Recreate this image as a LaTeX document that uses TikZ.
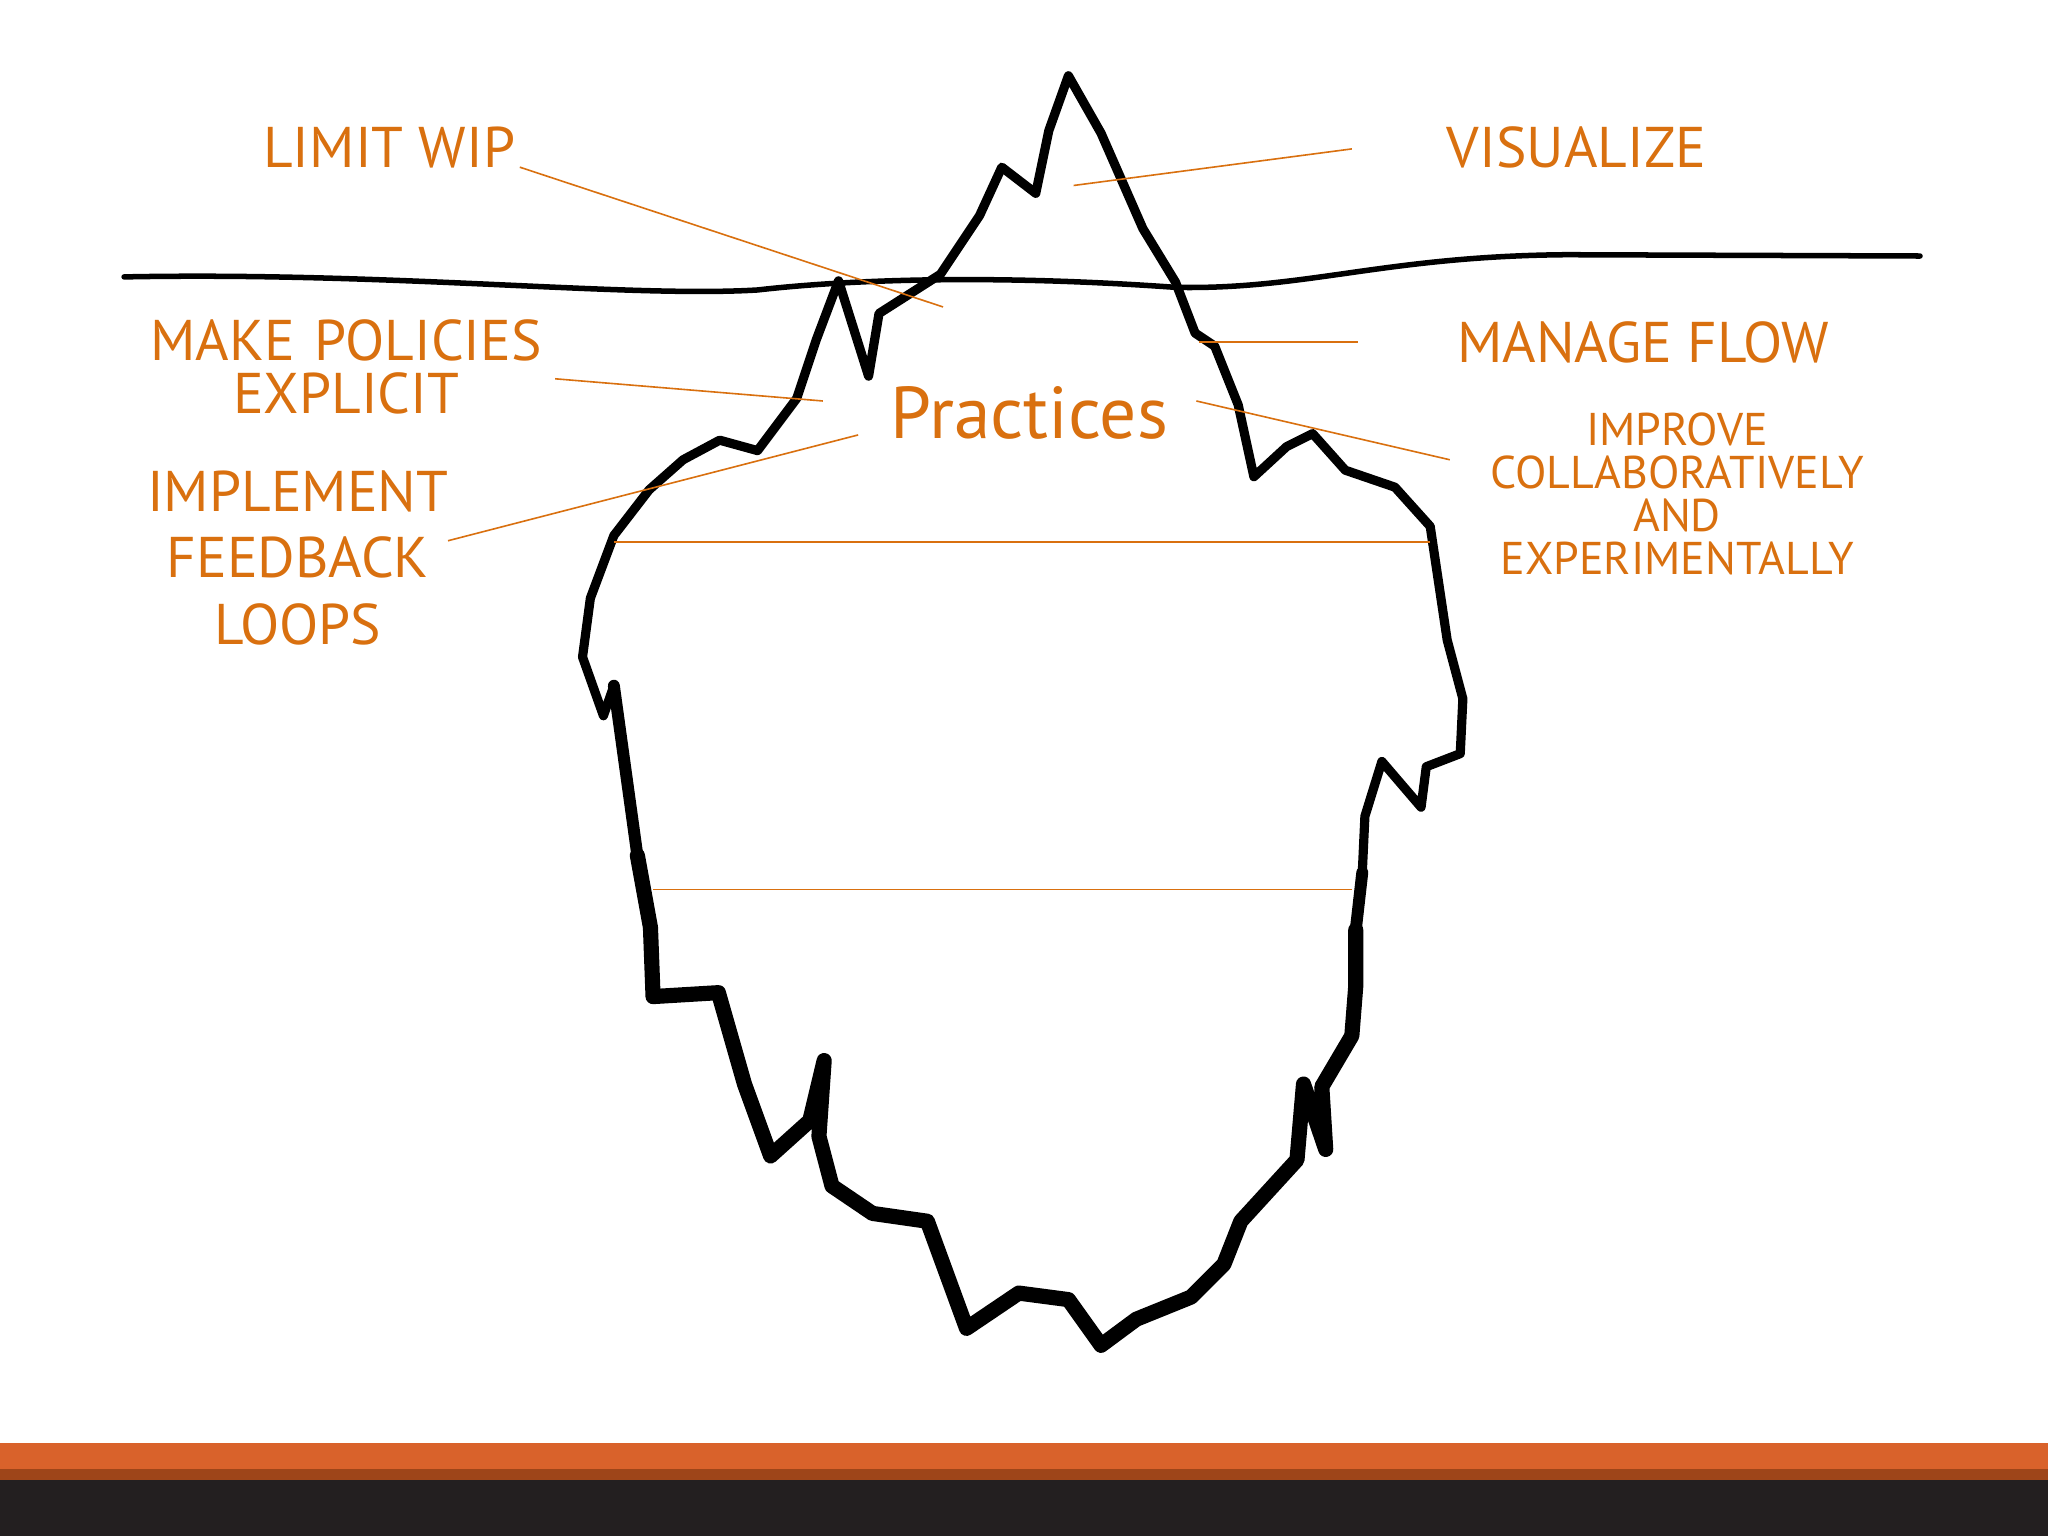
\documentclass[tikz,border=0pt]{standalone}
\usepackage{fontspec}
\setmainfont{PT Sans}
\definecolor{org}{HTML}{D9700F}
\definecolor{barO}{HTML}{D9622B}
\definecolor{barD}{HTML}{9E4519}
\definecolor{darkb}{HTML}{231F20}
\tikzset{lbl/.style={text=org,font=\fontsize{12.5}{15}\selectfont,align=center,inner sep=0},
 lead/.style={draw=org,line width=0.35pt}}
\begin{document}
\begin{tikzpicture}[x=0.1mm,y=-0.1mm]
\useasboundingbox (0,0) rectangle (1568,1176);
\fill[white] (0,0) rectangle (1568,1176);
\fill[barO] (0,1105) rectangle (1568,1125);
\fill[barD] (0,1125) rectangle (1568,1133);
\fill[darkb] (0,1133) rectangle (1568,1176);
% waterline
\draw[line width=1.2pt,line cap=round] (95,212) .. controls (300,208) and (480,228) .. (580,222) .. controls (650,214) and (760,210) .. (900,220) .. controls (1000,222) and (1060,196) .. (1200,195) -- (1470,196);
% iceberg
\draw[line width=2pt,line join=round,line cap=round] (1038,755) -- (1038,712) -- (1043,668) -- (1045,625) -- (1058,583) -- (1088,618) -- (1092,587) -- (1118,577) -- (1120,535) -- (1108,490) -- (1095,403) -- (1068,373) -- (1030,360) -- (1005,332) -- (985,342) -- (960,365) -- (948,310) -- (930,265) -- (915,255) -- (900,216) -- (875,175) -- (843,102) -- (818,58) -- (803,100) -- (793,148) -- (767,128) -- (750,165) -- (720,210) -- (673,240) -- (665,288) -- (642,215) -- (625,260) -- (610,305) -- (580,345) -- (551,337) -- (523,352) -- (497,375) -- (470,410) -- (452,458) -- (446,503) -- (462,548) -- (470,525) -- (488,655);
\draw[line width=2.6pt,line join=round,line cap=round] (1043,668) -- (1038,712) -- (1038,755);
\draw[line width=2.6pt,line join=round,line cap=round] (470,525) -- (488,655) -- (498,710);
\draw[line width=3.3pt,line join=round,line cap=round] (1038,712) -- (1038,755) -- (1035,793) -- (1012,832) -- (1015,880) -- (998,830) -- (993,888) -- (950,935) -- (937,968) -- (912,993) -- (870,1010) -- (843,1030) -- (818,995) -- (780,990) -- (740,1017) -- (710,935) -- (668,929) -- (637,908) -- (627,870) -- (631,812) -- (620,858) -- (590,885) -- (570,830) -- (550,760) -- (500,763) -- (498,710) -- (488,655);
% labels
\node[lbl] (wip) at (298,113) {LIMIT WIP};
\node[lbl] (vis) at (1207,113) {VISUALIZE};
\node[lbl,text width=60mm,font=\fontsize{12.5}{11.4}\selectfont] (pol) at (265,281) {MAKE POLICIES\\EXPLICIT};
\node[lbl] (flow) at (1258,262) {MANAGE FLOW};
\node[lbl,font=\fontsize{16}{20}\selectfont] (prac) at (788,316) {Practices};
\node[lbl,text width=60mm,font=\fontsize{12.5}{14.5}\selectfont] (fb) at (228,427) {IMPLEMENT\\FEEDBACK\\LOOPS};
\node[lbl,text width=60mm,font=\fontsize{10}{9.4}\selectfont] (imp) at (1284,378) {IMPROVE\\COLLABORATIVELY\\AND\\EXPERIMENTALLY};
% leaders
\draw[lead] (398,128) -- (722,235);
\draw[lead] (822,142) -- (1035,114);
\draw[lead] (918,262) -- (1040,262);
\draw[lead] (425,290) -- (630,307);
\draw[lead] (343,414) -- (657,333);
\draw[lead] (916,307) -- (1110,352);
\draw[lead] (470,415) -- (1095,415);
\draw[lead] (500,681) -- (1035,681);
\end{tikzpicture}
\end{document}
